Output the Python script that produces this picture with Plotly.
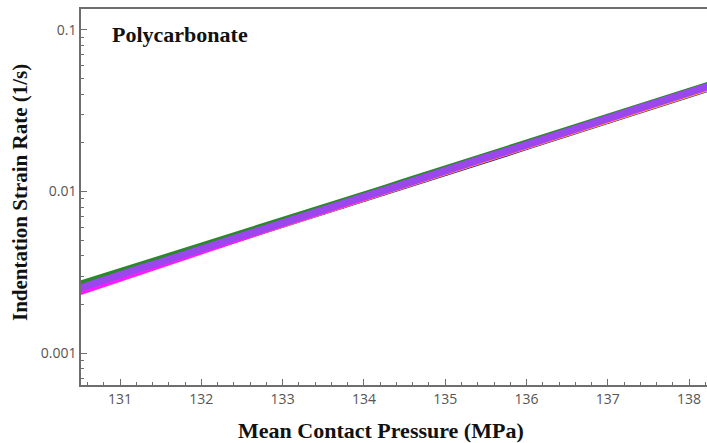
import plotly.graph_objects as go

# ---- data ----
pressure = [130.5, 130.75, 131.0, 131.25, 131.5, 131.75, 132.0, 132.25, 132.5, 132.75,
            133.0, 133.25, 133.5, 133.75, 134.0, 134.25, 134.5, 134.75, 135.0, 135.25,
            135.5, 135.75, 136.0, 136.25, 136.5, 136.75, 137.0, 137.25, 137.5, 137.75,
            138.0, 138.25]

rate_blue = [0.00255, 0.00280, 0.00305, 0.00334, 0.00364, 0.00398, 0.00436, 0.00476, 0.00521, 0.00571,
             0.00626, 0.00685, 0.00750, 0.00823, 0.00903, 0.00990, 0.01087, 0.01192, 0.01308, 0.01436,
             0.01576, 0.01728, 0.01898, 0.02082, 0.02283, 0.02508, 0.02751, 0.03018, 0.03316, 0.03636,
             0.03987, 0.04382]

rate_orange = [0.00248, 0.00274, 0.00300, 0.00330, 0.00361, 0.00396, 0.00435, 0.00477, 0.00523, 0.00574,
               0.00630, 0.00689, 0.00756, 0.00829, 0.00910, 0.00997, 0.01095, 0.01201, 0.01318, 0.01448,
               0.01588, 0.01742, 0.01913, 0.02098, 0.02300, 0.02527, 0.02771, 0.03040, 0.03340, 0.03662,
               0.04016, 0.04413]

rate_green = [0.00266, 0.00291, 0.00318, 0.00347, 0.00381, 0.00417, 0.00456, 0.00499, 0.00548, 0.00603,
              0.00659, 0.00722, 0.00790, 0.00871, 0.00953, 0.01044, 0.01146, 0.01255, 0.01374, 0.01505,
              0.01650, 0.01808, 0.01982, 0.02170, 0.02380, 0.02612, 0.02862, 0.03140, 0.03447, 0.03780,
              0.04150, 0.04560]

rate_magenta = [0.00240, 0.00265, 0.00290, 0.00322, 0.00352, 0.00388, 0.00428, 0.00470, 0.00520, 0.00574,
                0.00632, 0.00694, 0.00764, 0.00838, 0.00922, 0.01010, 0.01110, 0.01218, 0.01337, 0.01467,
                0.01612, 0.01766, 0.01942, 0.02128, 0.02336, 0.02563, 0.02815, 0.03085, 0.03392, 0.03718,
                0.04080, 0.04478]

rate_purple = [0.00252, 0.00279, 0.00304, 0.00336, 0.00366, 0.00404, 0.00441, 0.00486, 0.00533, 0.00583,
               0.00643, 0.00701, 0.00772, 0.00845, 0.00931, 0.01017, 0.01121, 0.01225, 0.01348, 0.01476,
               0.01625, 0.01776, 0.01957, 0.02140, 0.02353, 0.02578, 0.02835, 0.03101, 0.03416, 0.03736,
               0.04108, 0.04502]

x_ticks = [131, 132, 133, 134, 135, 136, 137, 138]
y_ticks = [0.001, 0.01, 0.1]
y_tick_text = ["0.001", "0.01", "0.1"]
y_minor = [m * d for d in (0.0001, 0.001, 0.01, 0.1) for m in range(2, 10)]

series = [
    ("blue", rate_blue, "#1c1c9c"),
    ("orange", rate_orange, "#f2a23a"),
    ("green", rate_green, "#2a8a2a"),
    ("magenta", rate_magenta, "#ff1aff"),
    ("purple", rate_purple, "#9b47ee"),
]

fig = go.Figure()
for name, vals, col in series:
    fig.add_trace(go.Scatter(
        x=pressure, y=vals, mode="lines+markers", name=name,
        line=dict(color=col, width=7), marker=dict(color=col, size=6),
        showlegend=False))

axis_col = "#6e6e6e"
tick_font = dict(family="Open Sans, sans-serif", size=14, color="#555555")
serif = "Liberation Serif, Times New Roman, serif"

fig.update_layout(
    width=707, height=443,
    margin=dict(l=81, r=0, t=9, b=58),
    paper_bgcolor="white", plot_bgcolor="white",
    xaxis=dict(
        range=[130.52, 138.22], tickvals=x_ticks, ticks="inside", ticklen=6,
        tickcolor=axis_col, showline=True, linecolor=axis_col, linewidth=1.5,
        mirror=True, showgrid=False, zeroline=False, tickfont=tick_font,
        automargin=False,
        minor=dict(dtick=0.2, ticks="inside", ticklen=3, tickcolor=axis_col, showgrid=False),
    ),
    yaxis=dict(
        type="log", range=[-3.196, -0.872], tickvals=y_ticks, ticktext=y_tick_text,
        ticks="inside", ticklen=6, tickcolor=axis_col, showline=True, linecolor=axis_col,
        linewidth=1.5, mirror=False, showgrid=False, zeroline=False, tickfont=tick_font,
        automargin=False,
        minor=dict(tickvals=y_minor, ticks="inside", ticklen=3, tickcolor=axis_col, showgrid=False),
    ),
    annotations=[
        dict(text="<b>Polycarbonate</b>", xref="paper", yref="paper", x=0.046, y=0.932,
             xanchor="left", yanchor="middle", showarrow=False,
             font=dict(family=serif, size=22, color="#111111")),
        dict(text="<b>Mean Contact Pressure (MPa)</b>", xref="paper", yref="paper",
             x=(381 - 81) / 626, y=-(430 - 385) / 376, xanchor="center", yanchor="middle",
             showarrow=False, font=dict(family=serif, size=22, color="#111111")),
        dict(text="<b>Indentation Strain Rate (1/s)</b>", xref="paper", yref="paper",
             x=-(81 - 20) / 626, y=1 - (193 - 9) / 376, xanchor="center", yanchor="middle",
             textangle=-90, showarrow=False, font=dict(family=serif, size=21, color="#111111")),
    ],
)

fig.write_html("out.html", config={"displayModeBar": False},
               post_script="document.body.style.margin='0px';document.body.style.overflow='hidden';")
